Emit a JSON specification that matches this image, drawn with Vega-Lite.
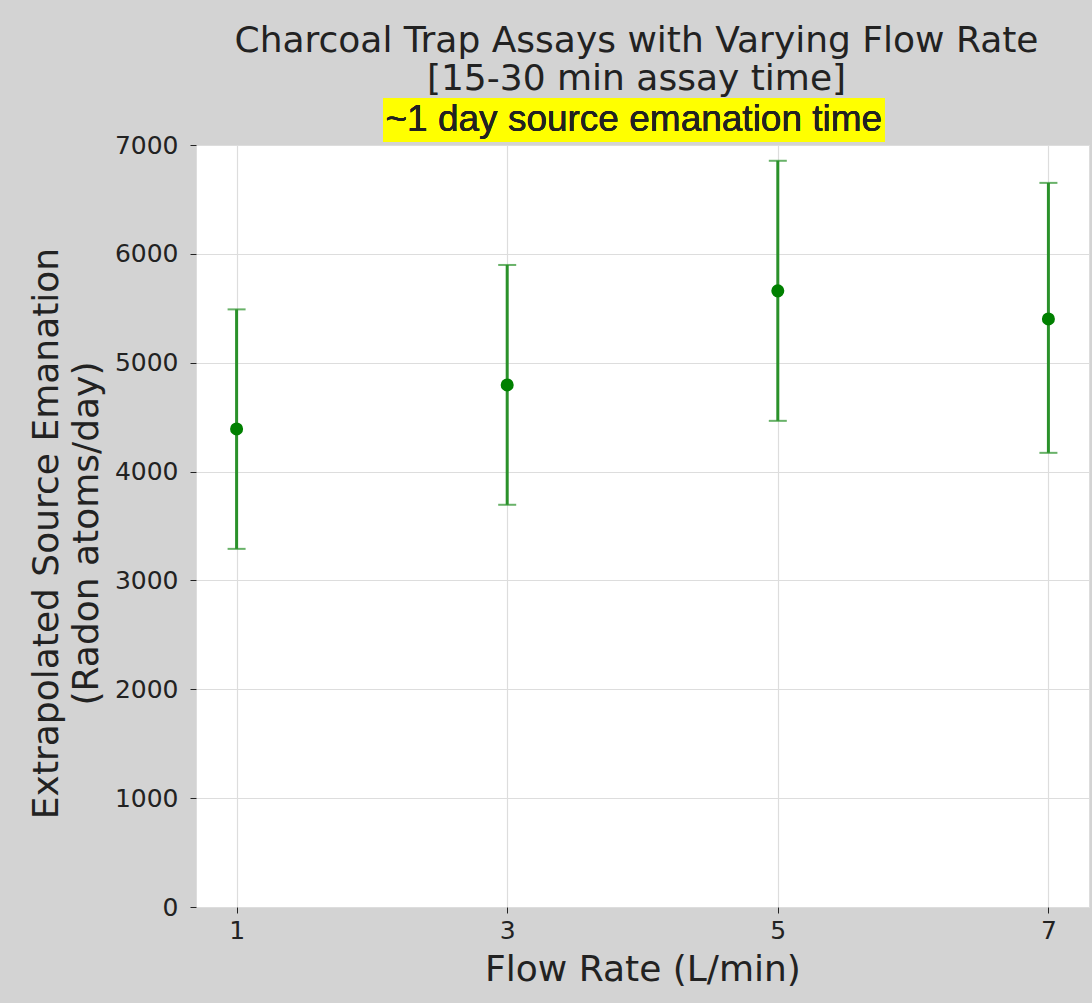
{
  "$schema": "https://vega.github.io/schema/vega-lite/v6.json",
  "autosize": {"type": "none"},
  "padding": {"left": 196, "top": 145, "right": 3, "bottom": 96},
  "width": 893,
  "height": 762,
  "background": "#d3d3d3",
  "config": {
    "view": {"fill": "white", "stroke": "#dddddd", "strokeWidth": 1},
    "font": "DejaVu Sans",
    "axis": {
      "labelFont": "DejaVu Sans",
      "titleFont": "DejaVu Sans",
      "labelColor": "#222222",
      "titleColor": "#222222",
      "tickColor": "#222222",
      "domain": false,
      "gridColor": "#dddddd",
      "gridWidth": 1.2,
      "labelFontSize": 25,
      "titleFontSize": 36,
      "titleFontWeight": "normal",
      "tickSize": 6,
      "format": "d"
    }
  },
  "title": {
    "text": ["Charcoal Trap Assays with Varying Flow Rate", "[15-30 min assay time]"],
    "font": "DejaVu Sans",
    "fontSize": 36,
    "fontWeight": "normal",
    "color": "#222222",
    "lineHeight": 38,
    "anchor": "middle",
    "dx": -6,
    "offset": 0
  },
  "data": {
    "values": [
      {"flow": 1, "emanation": 4392, "low": 3290, "high": 5490},
      {"flow": 3, "emanation": 4796, "low": 3695, "high": 5898},
      {"flow": 5, "emanation": 5660, "low": 4466, "high": 6855},
      {"flow": 7, "emanation": 5402, "low": 4172, "high": 6652}
    ]
  },
  "layer": [
    {
      "mark": {"type": "errorbar", "ticks": {"size": 18, "thickness": 2, "color": "#2a912a"}, "rule": {"strokeWidth": 3, "color": "#2a912a"}},
      "encoding": {
        "x": {
          "field": "flow", "type": "quantitative",
          "scale": {"domain": [0.7, 7.3], "nice": false, "zero": false},
          "axis": {"values": [1, 3, 5, 7], "title": "Flow Rate (L/min)", "labelPadding": 5, "titlePadding": 9}
        },
        "y": {
          "field": "low", "type": "quantitative",
          "scale": {"domain": [0, 7000], "nice": false},
          "axis": {
            "values": [0, 1000, 2000, 3000, 4000, 5000, 6000, 7000],
            "title": ["Extrapolated Source Emanation", "(Radon atoms/day)"],
            "labelPadding": 12,
            "titlePadding": 9,
            "titleLineHeight": 40,
            "titleY": 388
          }
        },
        "y2": {"field": "high"}
      }
    },
    {
      "mark": {"type": "point", "filled": true, "shape": "circle", "size": 170, "color": "#008000", "opacity": 1},
      "encoding": {
        "x": {"field": "flow", "type": "quantitative"},
        "y": {"field": "emanation", "type": "quantitative"}
      }
    },
    {
      "mark": {"type": "rect", "color": "#ffff00", "clip": false},
      "encoding": {
        "x": {"datum": 2.083, "type": "quantitative"},
        "x2": {"datum": 5.789},
        "y": {"datum": 7028, "type": "quantitative"},
        "y2": {"datum": 7432}
      }
    },
    {
      "mark": {"type": "text", "font": "Liberation Sans", "fontSize": 37, "color": "#222222", "baseline": "middle", "align": "center", "clip": false},
      "encoding": {
        "x": {"datum": 3.936, "type": "quantitative"},
        "y": {"datum": 7230, "type": "quantitative"},
        "text": {"value": "~1 day source emanation time"}
      }
    }
  ]
}
